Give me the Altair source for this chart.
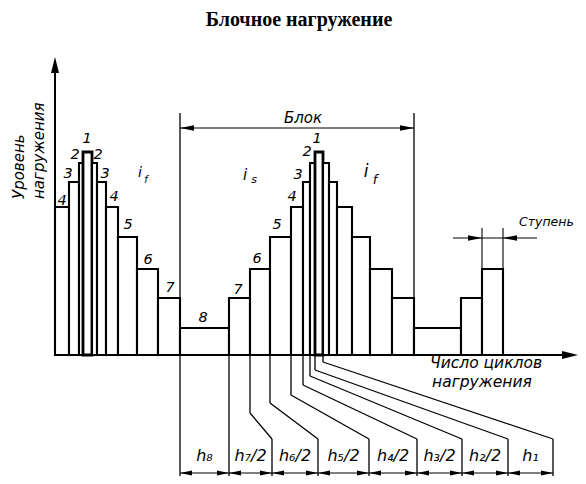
import altair as alt
import pandas as pd

# ---- data (cycles axis units: origin at level axis; level units: baseline = 0)
edges = [0, 14, 24, 28, 37, 42, 51, 63, 82, 103, 125, 174, 195, 215, 236, 248, 255,
         260, 268, 274, 282, 297, 315, 337, 359, 406, 427, 448]
steps = [4, 3, 2, 1, 2, 3, 4, 5, 6, 7, 8, 7, 6, 5, 4, 3, 2, 1, 2, 3, 4, 5, 6, 7, 8, 7, 6]
step_levels = {1: 203, 2: 192, 3: 173, 4: 148, 5: 118, 6: 86, 7: 57, 8: 27}

num_text = ["4", "3", "2", "1", "2", "3", "4", "5", "6", "7",
            "8", "7", "6", "5", "4", "3", "2", "1"]
num_x = [7, 13, 20, 32, 43, 50, 59, 73, 93, 115, 148, 183, 202, 222, 237, 243, 252, 262]
num_y = [154, 181, 200, 216, 200, 181, 158, 130, 95, 67, 37, 65, 96, 130, 158, 180, 203, 216]

block_x = [125, 359]
block_top = 242
block_arrow_y = 227

stage_x = [427, 448]
stage_ext = [86, 127]
stage_line_y = 117
stage_line_x = [398, 482]

leader_start = [195, 215, 236, 248, 255, 260, 268]
leader_knee = [-58, -48, -40, -30, -21, -15, -7]
leader_end = [217, 263, 314, 362, 407, 453, 498]
leader_bend = -84
bottom = -121

dim_ticks = [125, 174, 217, 263, 314, 362, 407, 453, 498]
dim_labels = ["h₈", "h₇/2", "h₆/2", "h₅/2", "h₄/2", "h₃/2", "h₂/2", "h₁"]
dim_y = -118
dim_label_y = -101

axis_top = 298
axis_right = 523

# ---- tables
bars = pd.DataFrame({
    "x0": edges[:-1], "x1": edges[1:],
    "y0": [0] * len(steps), "y1": [step_levels[s] for s in steps],
    "sw": [2.8 if s == 1 else 2.1 for s in steps],
})

segs = []
def seg(x, y, x2, y2, w):
    segs.append({"x": x, "y": y, "x2": x2, "y2": y2, "w": w})

# axes
seg(0, 0, 0, axis_top - 12, 2)
seg(0, 0, axis_right - 12, 0, 2)
# block
seg(block_x[0], block_top, block_x[0], bottom, 1.3)
seg(block_x[1], block_top, block_x[1], 0, 1.3)
seg(block_x[0], block_arrow_y, block_x[1], block_arrow_y, 1.1)
# stage
for sx in stage_x:
    seg(sx, stage_ext[0], sx, stage_ext[1], 1.1)
seg(stage_line_x[0], stage_line_y, stage_line_x[1], stage_line_y, 1.1)
# leaders
seg(dim_ticks[1], 0, dim_ticks[1], bottom, 1.3)
for xs_, yk, xe in zip(leader_start, leader_knee, leader_end):
    seg(xs_, 0, xs_, yk, 1.3)
    seg(xs_, yk, xe, leader_bend, 1.3)
    seg(xe, leader_bend, xe, bottom, 1.3)
# bottom dimension line
seg(dim_ticks[0], dim_y, dim_ticks[-1], dim_y, 1.0)
segs = pd.DataFrame(segs)

R = "M0,0L-2,-0.4L-2,0.4Z"
L = "M0,0L2,-0.4L2,0.4Z"
U = "M0,0L-0.5,2L0.5,2Z"
RA = "M0,0L-2,-0.5L-2,0.5Z"
arrows = [
    {"x": 0, "y": axis_top, "shape": U, "size": 256},
    {"x": axis_right, "y": 0, "shape": RA, "size": 256},
    {"x": block_x[0], "y": block_arrow_y, "shape": L, "size": 196},
    {"x": block_x[1], "y": block_arrow_y, "shape": R, "size": 196},
    {"x": stage_x[0], "y": stage_line_y, "shape": R, "size": 196},
    {"x": stage_x[1], "y": stage_line_y, "shape": L, "size": 196},
]
for i in range(len(dim_ticks) - 1):
    arrows.append({"x": dim_ticks[i], "y": dim_y, "shape": L, "size": 144})
    arrows.append({"x": dim_ticks[i + 1], "y": dim_y, "shape": R, "size": 144})
arrows = pd.DataFrame(arrows)

labels_c = pd.DataFrame({"x": num_x, "y": num_y, "text": num_text, "size": [14.5] * len(num_x)})
extra = pd.DataFrame({
    "x": [248, 85, 91, 190, 199, 311, 320],
    "y": [237, 182, 175, 180, 175, 183, 175],
    "text": ["Блок", "i", "f", "i", "s", "i", "f"],
    "size": [15, 14, 10, 15, 11, 17, 13],
})
dims = pd.DataFrame({
    "x": [(a + b) / 2 for a, b in zip(dim_ticks[:-1], dim_ticks[1:])],
    "y": [dim_label_y] * len(dim_labels), "text": dim_labels, "size": [16] * len(dim_labels),
})
labels_c = pd.concat([labels_c, extra, dims], ignore_index=True)

labels_l = pd.DataFrame({
    "x": [375, 377, 464],
    "y": [-8, -27, 133],
    "text": ["Число циклов", "нагружения", "Ступень"],
    "size": [15.5, 15.5, 12.5],
})
labels_r = pd.DataFrame({
    "x": [-36, -16], "y": [156, 156],
    "text": ["Уровень", "нагружения"], "size": [15, 15],
})
title = pd.DataFrame({"x": [244], "y": [335], "text": ["Блочное нагружение"]})

xs = alt.Scale(domain=[-47, 523], nice=False, zero=False)
ys = alt.Scale(domain=[-121, 347], nice=False, zero=False)
FONT = "DejaVu Sans"

rects = alt.Chart(bars).mark_rect(fill="white", stroke="black").encode(
    x=alt.X("x0:Q", scale=xs, axis=None), x2="x1:Q",
    y=alt.Y("y0:Q", scale=ys, axis=None), y2="y1:Q",
    strokeWidth=alt.StrokeWidth("sw:Q", scale=None),
)
rules = alt.Chart(segs).mark_rule(color="black").encode(
    x=alt.X("x:Q", scale=xs, axis=None), x2="x2:Q",
    y=alt.Y("y:Q", scale=ys, axis=None), y2="y2:Q",
    strokeWidth=alt.StrokeWidth("w:Q", scale=None),
)
heads = alt.Chart(arrows).mark_point(filled=True, color="black", opacity=1, strokeWidth=0).encode(
    x=alt.X("x:Q", scale=xs, axis=None),
    y=alt.Y("y:Q", scale=ys, axis=None),
    shape=alt.Shape("shape:N", scale=None),
    size=alt.Size("size:Q", scale=None),
)
txt_c = alt.Chart(labels_c).mark_text(font=FONT, fontStyle="italic", align="center",
                                       baseline="middle", color="black").encode(
    x=alt.X("x:Q", scale=xs, axis=None), y=alt.Y("y:Q", scale=ys, axis=None),
    text="text:N", size=alt.Size("size:Q", scale=None),
)
txt_l = alt.Chart(labels_l).mark_text(font=FONT, fontStyle="italic", align="left",
                                       baseline="middle", color="black").encode(
    x=alt.X("x:Q", scale=xs, axis=None), y=alt.Y("y:Q", scale=ys, axis=None),
    text="text:N", size=alt.Size("size:Q", scale=None),
)
txt_r = alt.Chart(labels_r).mark_text(font=FONT, fontStyle="italic", align="left",
                                       baseline="middle", angle=270, color="black").encode(
    x=alt.X("x:Q", scale=xs, axis=None), y=alt.Y("y:Q", scale=ys, axis=None),
    text="text:N", size=alt.Size("size:Q", scale=None),
)
txt_t = alt.Chart(title).mark_text(font="Liberation Serif", fontWeight="bold", fontSize=20,
                                    align="center", baseline="middle", color="black").encode(
    x=alt.X("x:Q", scale=xs, axis=None), y=alt.Y("y:Q", scale=ys, axis=None),
    text="text:N",
)

chart = alt.layer(rects, rules, heads, txt_c, txt_l, txt_r, txt_t).properties(
    width=570, height=468, padding=0, autosize="none", background="white"
).configure_view(strokeWidth=0)

chart.save("out.html", embed_options={"renderer": "svg", "actions": False})
